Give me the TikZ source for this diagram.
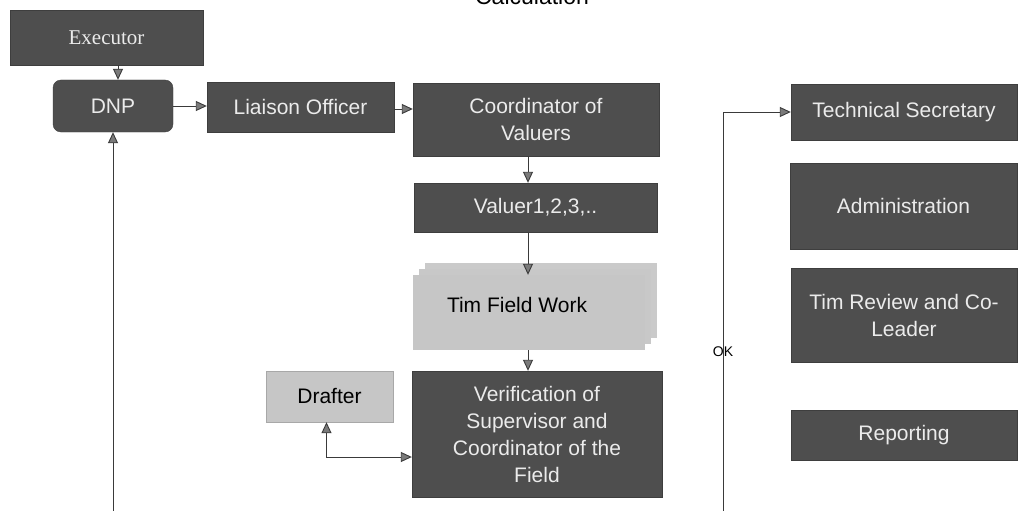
\documentclass[tikz,border=0pt]{standalone}
\usepackage{fontspec}
\setmainfont{Liberation Sans}
\newfontfamily\serifface{Liberation Serif}
\usetikzlibrary{arrows.meta,calc}
\definecolor{boxdark}{HTML}{4E4E4E}
\definecolor{boxlight}{HTML}{C6C6C6}
\definecolor{linegray}{HTML}{3A3A3A}
\definecolor{tipgray}{HTML}{7A7A7A}
\tikzset{
  darkbox/.style={draw=boxdark!80!black, fill=boxdark, text=white!92!black,
    align=center, inner sep=2pt, font=\fontsize{21}{27}\selectfont},
  lightbox/.style={draw=boxlight!85!black, fill=boxlight, text=black,
    align=center, inner sep=2pt, font=\fontsize{21}{27}\selectfont},
  flow/.style={draw=linegray, line width=0.9pt,
    -{Triangle[width=10pt,length=11pt,fill=tipgray]}},
  flowboth/.style={draw=linegray, line width=0.9pt,
    {Triangle[width=10pt,length=11pt,fill=tipgray]}-{Triangle[width=10pt,length=11pt,fill=tipgray]}},
}
\begin{document}
\begin{tikzpicture}[x=1pt,y=-1pt]
\useasboundingbox (0,0) rectangle (1018,511);
\fill[white] (0,0) rectangle (1018,511);

% heading, partly outside the page
\node[anchor=base, font=\fontsize{23}{25}\selectfont] (title) at (532,5) {Calculation};

% left branch
\node[darkbox, font=\serifface\fontsize{21}{23}\selectfont, minimum width=193pt, minimum height=55pt] (exec) at (106.5,37.5) {Executor};
\node[darkbox, rounded corners=8pt, minimum width=120pt, minimum height=52pt] (dnp) at (113,106) {DNP};
\node[darkbox, minimum width=187pt, minimum height=50pt] (liaison) at (300.5,107) {Liaison Officer};

% central column
\node[darkbox, minimum width=246pt, minimum height=73pt] (coord) at (536,119.5) {Coordinator of\\Valuers};
\node[darkbox, minimum width=243pt, minimum height=49pt] (valuer) at (535.5,207.5) {Valuer1,2,3,..};

% stacked field-work sheets
\fill[boxlight!92!white] (425,263) rectangle (657,338);
\fill[boxlight!96!white] (419,269) rectangle (651,344);
\node[lightbox, draw=none, minimum width=232pt, minimum height=75pt] (tim) at (529,312.5) {};
\node[font=\fontsize{21}{27}\selectfont, text=black] (timtext) at (517,305) {Tim Field Work};

\node[lightbox, minimum width=127pt, minimum height=51pt] (drafter) at (329.5,396.5) {Drafter};
\node[darkbox, minimum width=250pt, minimum height=126pt] (verif) at (537,434) {Verification of\\Supervisor and\\Coordinator of the\\Field};

% right column
\node[darkbox, minimum width=226pt, minimum height=56pt] (techsec) at (904,112) {Technical Secretary};
\node[darkbox, minimum width=227pt, minimum height=86pt] (admin) at (903.5,206) {Administration};
\node[darkbox, minimum width=226pt, minimum height=94pt] (review) at (904,315) {Tim Review and Co-\\Leader};
\node[darkbox, minimum width=226pt, minimum height=50pt] (report) at (904,435) {Reporting};

% connectors
\draw[flow] ([xshift=5pt]dnp.north |- exec.south) -- ([xshift=5pt]dnp.north);
\draw[flow] (dnp.east) -- (dnp.east -| liaison.west);
\draw[flow] ([yshift=-2pt]liaison.east) -- ([yshift=-2pt]liaison.east -| coord.west);
\draw[flow] (528,0 |- coord.south) -- (528,0 |- valuer.north);
\draw[flow] (528,0 |- valuer.south) -- (528,0 |- tim.north);
\draw[flow] (528,0 |- tim.south) -- (528,0 |- verif.north);
\draw[flowboth] ([xshift=-3pt]drafter.south) |- ([yshift=-23pt]verif.west);

\coordinate (dnpfoot) at (113,520);
\draw[flow] (dnpfoot) -- (dnp.south);

\coordinate (okfoot) at (723,520);
\draw[flow] (okfoot) |- (techsec.west);
\node[font=\fontsize{14}{16}\selectfont, inner sep=0pt] (ok) at (723,352) {OK};
\end{tikzpicture}
\end{document}
